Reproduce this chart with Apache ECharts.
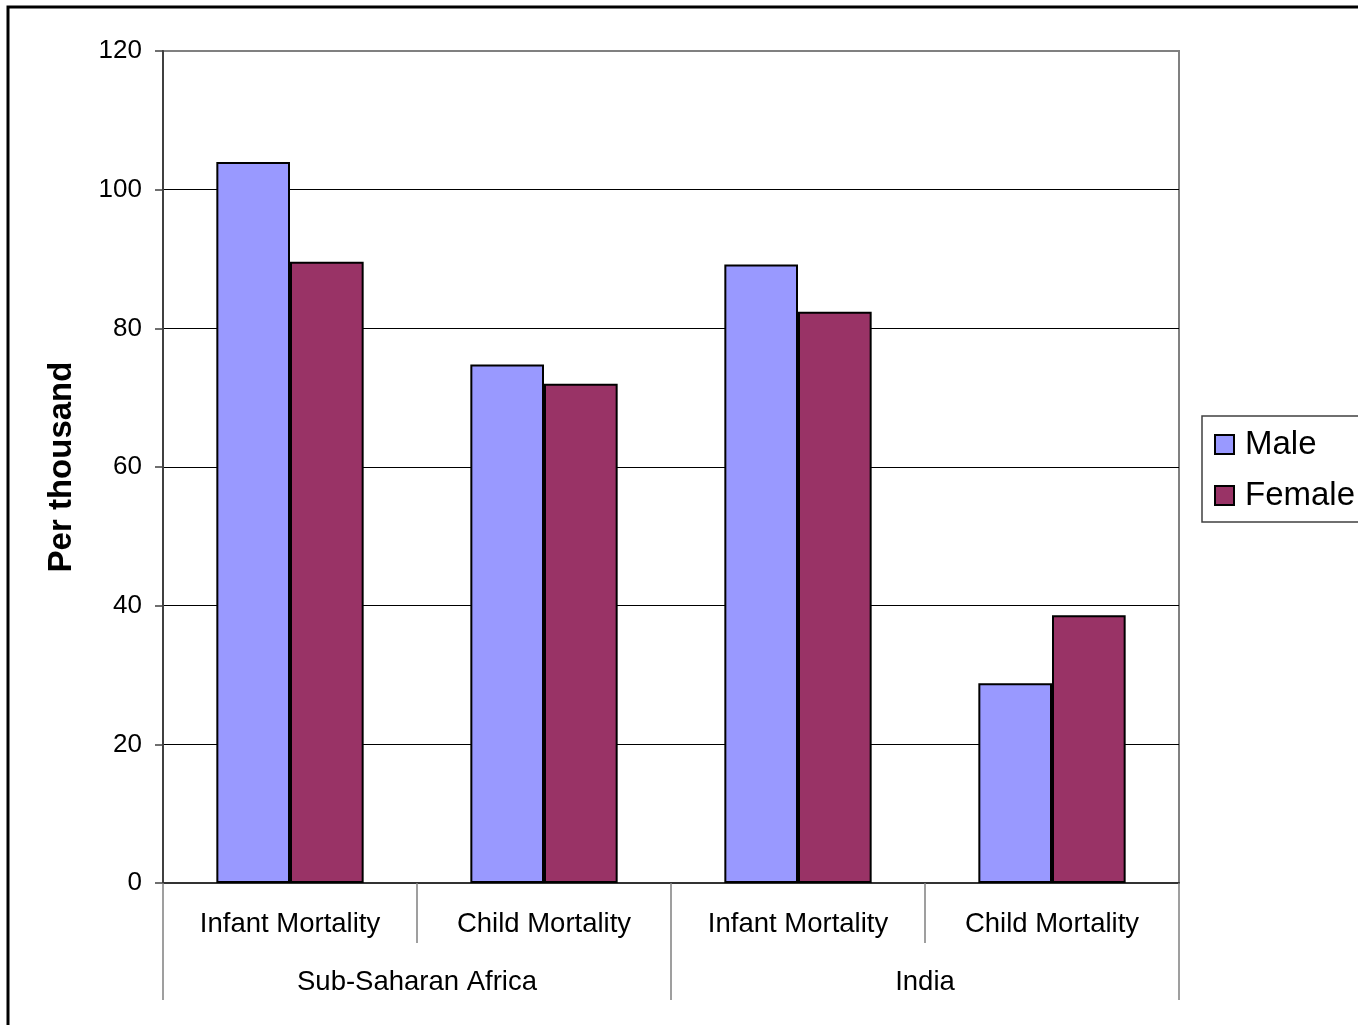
<!DOCTYPE html>
<html>
<head>
<meta charset="utf-8">
<script src="https://cdn.jsdelivr.net/npm/echarts@6/dist/echarts.min.js"></script>
<style>
html,body{margin:0;padding:0;background:#fff;}
#chart{width:1358px;height:1025px;}
</style>
</head>
<body>
<div id="chart"></div>
<script>
const categories = ['Infant Mortality', 'Child Mortality', 'Infant Mortality', 'Child Mortality'];
const groups = ['Sub-Saharan Africa', 'India'];
const maleValues = [104.0, 74.8, 89.2, 28.8];
const femaleValues = [89.6, 72.0, 82.4, 38.6];
const seriesNames = ['Male', 'Female'];
const yTicks = {min: 0, max: 120, interval: 20};
const yTitle = 'Per thousand';

const FONT = 'Liberation Sans, Arial, sans-serif';
const chart = echarts.init(document.getElementById('chart'), null, {renderer: 'canvas'});
chart.setOption({
  animation: false,
  backgroundColor: '#fff',
  graphic: [{
    type: 'rect',
    shape: {x: 8, y: 7, width: 1450, height: 1100},
    style: {fill: 'none', stroke: '#000', lineWidth: 3},
    silent: true, z: 100
  }],
  grid: {
    left: 163, right: 179, top: 51, bottom: 142,
    show: true, borderColor: '#808080', borderWidth: 2, backgroundColor: 'transparent'
  },
  legend: {
    orient: 'vertical',
    left: 1202, top: 416,
    padding: [12, 20, 10, 12],
    itemGap: 18,
    itemWidth: 19, itemHeight: 19,
    borderColor: '#404040', borderWidth: 1.5,
    icon: 'rect',
    textStyle: {fontFamily: FONT, fontSize: 33, color: '#000', padding: [0, 0, 0, 6]},
    data: seriesNames
  },
  xAxis: [{
    type: 'category',
    data: categories,
    position: 'bottom',
    axisLine: {show: true, lineStyle: {color: '#333', width: 2}},
    axisTick: {show: true, length: 60, interval: 0, lineStyle: {color: '#808080', width: 1.5}},
    axisLabel: {interval: 0, margin: 27, fontFamily: FONT, fontSize: 27.5, color: '#000'},
    splitLine: {show: false}
  }, {
    type: 'category',
    data: groups,
    position: 'bottom',
    axisLine: {show: false},
    axisTick: {show: true, length: 117, interval: 0, lineStyle: {color: '#808080', width: 1.5}},
    axisLabel: {interval: 0, margin: 85, fontFamily: FONT, fontSize: 27.5, color: '#000'},
    splitLine: {show: false}
  }],
  yAxis: {
    type: 'value',
    min: yTicks.min, max: yTicks.max, interval: yTicks.interval,
    name: yTitle,
    nameLocation: 'middle',
    nameGap: 85,
    nameRotate: 90,
    nameTextStyle: {fontFamily: FONT, fontSize: 33, fontWeight: 'bold', color: '#000'},
    axisLine: {show: true, lineStyle: {color: '#404040', width: 2}},
    axisTick: {show: true, length: 8, lineStyle: {color: '#404040', width: 1.5}},
    axisLabel: {margin: 21, fontFamily: FONT, fontSize: 26, color: '#000'},
    splitLine: {show: true, lineStyle: {color: ['#000','#000','#000','#000','#000','#000','#808080'], width: 1}}
  },
  series: [{
    name: seriesNames[0],
    type: 'bar',
    xAxisIndex: 0,
    data: maleValues,
    barGap: '0%',
    barCategoryGap: '42%',
    itemStyle: {color: '#9999FF', borderColor: '#000', borderWidth: 2}
  }, {
    name: seriesNames[1],
    type: 'bar',
    xAxisIndex: 0,
    data: femaleValues,
    barGap: '0%',
    barCategoryGap: '42%',
    itemStyle: {color: '#993366', borderColor: '#000', borderWidth: 2}
  }]
});
</script>
</body>
</html>
